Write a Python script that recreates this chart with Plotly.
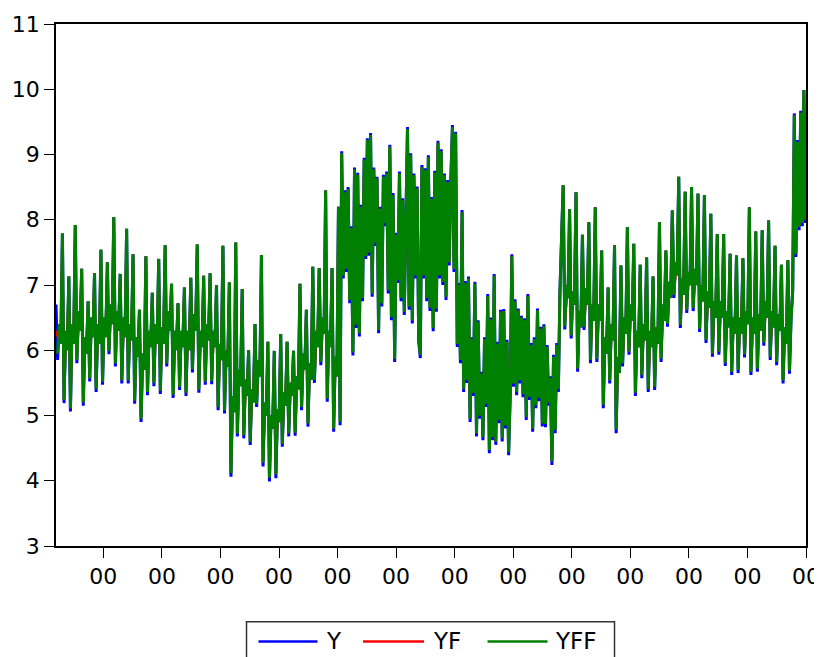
import plotly.graph_objects as go

# ---------------- data ----------------
tick_labels = ["00"] * 13
legend_names = ["Y", "YF", "YFF"]
legend_colors = ["#0000FF", "#FF0000", "#008000"]

# first observations
y_head = [6.7, 5.85, 6.4, 6.1]
yf_head = [6.3, 6.2, 6.35, 6.15]
yff_head = [None, 5.95, 6.4, 6.1]

# section 1 (regular cycles): peak, trough, rise-1, rise-2
s1_peak = [7.79, 7.13, 7.92, 7.25, 6.75, 7.18, 7.54, 7.35, 8.04, 7.17, 7.86, 7.47, 6.62, 7.44, 6.88,
           7.40, 7.61, 7.02, 6.72, 6.96, 7.11, 7.62, 7.14, 7.18, 7.00, 7.60, 7.04, 7.65, 6.94, 6.00,
           6.40, 7.46, 6.13, 5.99, 6.25, 6.13, 5.99, 7.02, 6.62, 7.28, 7.26, 8.45, 7.26, 8.20]
s1_trough = [5.19, 5.06, 5.80, 5.15, 5.52, 5.36, 5.47, 5.94, 5.75, 5.49, 5.49, 5.18, 4.90, 5.31, 5.45,
             5.33, 5.75, 5.27, 5.39, 5.30, 5.66, 5.35, 5.47, 5.48, 5.08, 5.03, 4.06, 4.68, 4.65, 4.55,
             5.13, 4.22, 3.99, 4.04, 4.52, 4.68, 4.69, 5.08, 4.83, 5.50, 5.77, 5.21, 4.75]
s1_mid1 = [6.3, 6.4, 6.6, 6.2, 6.5, 6.4, 6.5, 6.7, 6.6, 6.5, 6.4, 6.2, 5.95, 6.3, 6.4, 6.35, 6.6, 6.3,
           6.3, 6.3, 6.55, 6.3, 6.4, 6.3, 6.1, 6.0, 5.3, 5.7, 5.55, 5.4, 5.85, 5.2, 5.0, 5.1, 5.35, 5.5,
           5.6, 5.95, 5.8, 6.3, 6.5, 6.3, 5.9]
s1_mid2 = [6.0, 6.1, 6.3, 5.95, 6.2, 6.1, 6.2, 6.4, 6.3, 6.2, 6.15, 5.9, 5.7, 6.05, 6.1, 6.1, 6.3, 6.0,
           6.05, 6.0, 6.3, 6.05, 6.15, 6.05, 5.85, 5.75, 5.05, 5.45, 5.3, 5.2, 5.6, 5.0, 4.8, 4.9, 5.15,
           5.3, 5.4, 5.7, 5.55, 6.05, 6.25, 6.05, 5.6]
yff_s1_trough = [5.24, 5.11, 5.85, 5.2, 5.57, 5.41, 5.52, 5.99, 5.8, 5.54, 5.54, 5.23, 4.95, 5.36, 5.5,
                 5.38, 5.8, 5.32, 5.44, 5.35, 5.71, 5.4, 5.52, 5.53, 5.13, 5.08, 4.12, 4.73, 4.7, 4.6,
                 5.18, 4.28, 4.05, 4.1, 4.57, 4.73, 4.74, 5.13, 4.88, 5.55, 5.82, 5.26, 4.8]
yf_s1_mid1 = [6.05, 6.2, 6.35, 5.95, 6.3, 6.15, 6.3, 6.45, 6.4, 6.25, 6.2, 5.95, 5.75, 6.1, 6.2, 6.1,
              6.35, 6.05, 6.1, 6.05, 6.3, 6.1, 6.2, 6.05, 5.85, 5.75, 5.05, 5.45, 5.3, 5.2, 5.6, 4.95,
              4.8, 4.85, 5.15, 5.3, 5.35, 5.7, 5.6, 6.05, 6.3, 6.05, 5.7]
yf_s1_mid2 = [6.25, 6.35, 6.5, 6.15, 6.4, 6.3, 6.45, 6.6, 6.5, 6.4, 6.35, 6.1, 5.9, 6.25, 6.3, 6.3,
              6.5, 6.2, 6.25, 6.2, 6.5, 6.25, 6.35, 6.25, 6.05, 5.95, 5.3, 5.65, 5.5, 5.4, 5.8, 5.2,
              5.0, 5.1, 5.35, 5.5, 5.6, 5.9, 5.75, 6.25, 6.45, 6.25, 5.8]

# volatile high regime
y_high = [4.85, 9.05, 7.1, 8.45, 7.2, 8.5, 6.72, 7.9, 5.92, 8.8,
          6.34, 8.72, 6.21, 8.23, 6.75, 8.95, 7.4, 9.25, 7.45, 9.33,
          6.82, 8.8, 7.6, 8.66, 6.26, 8.2, 6.67, 8.69, 7.9, 8.74,
          6.87, 9.15, 6.46, 8.41, 5.82, 7.8, 7.03, 8.74, 6.75, 8.33,
          6.54, 8.0, 9.42, 6.62, 9.02, 6.41, 8.71, 7.1, 8.51, 6.13,
          5.88, 8.84, 7.1, 8.79, 6.75, 8.99, 6.6, 8.35, 6.29, 8.75,
          6.59, 9.21, 7.1, 9.08, 7.0, 8.71, 6.77, 8.61, 7.3, 8.6,
          9.45, 7.2, 9.35]
yff_high = [4.9, 9.02, 7.15, 8.42, 7.25, 8.47, 6.77, 7.87, 5.97, 8.77,
            6.39, 8.69, 6.26, 8.2, 6.8, 8.92, 7.45, 9.22, 7.5, 9.3,
            6.87, 8.77, 7.65, 8.63, 6.31, 8.17, 6.72, 8.66, 7.95, 8.71,
            6.92, 9.12, 6.51, 8.38, 5.87, 7.77, 7.08, 8.71, 6.8, 8.3,
            6.59, 7.97, 9.39, 6.67, 8.99, 6.46, 8.68, 7.15, 8.48, 6.18,
            5.93, 8.81, 7.15, 8.76, 6.8, 8.96, 6.65, 8.32, 6.34, 8.72,
            6.64, 9.18, 7.15, 9.05, 7.05, 8.68, 6.82, 8.58, 7.35, 8.57,
            9.42, 7.25, 9.32]

# volatile low regime
y_low = [6.05, 7.03, 5.8, 8.15, 5.36, 7.06, 5.5, 7.13, 4.9, 6.2,
         5.3, 7.05, 4.68, 6.46, 4.95, 5.67, 4.62, 6.2, 5.13, 6.86,
         4.42, 6.5, 4.62, 7.17, 4.55, 6.13, 4.88, 6.62, 4.6, 6.63,
         4.8, 6.16, 4.39, 5.3, 7.47, 5.44, 6.78, 5.31, 6.64, 5.49,
         6.53, 5.28, 6.49, 4.93, 6.86, 5.24, 6.11, 4.75, 6.2, 5.11,
         6.64, 5.22, 6.36, 4.83, 6.4, 4.82, 6.08, 5.15, 5.6, 4.24,
         5.93, 4.73, 6.11, 5.36, 6.9, 7.6]
yff_low = [6.1, 7.0, 5.85, 8.12, 5.41, 7.03, 5.55, 7.1, 4.95, 6.17,
           5.35, 7.02, 4.73, 6.43, 5.0, 5.64, 4.67, 6.17, 5.18, 6.83,
           4.47, 6.47, 4.67, 7.14, 4.6, 6.1, 4.93, 6.59, 4.65, 6.6,
           4.85, 6.13, 4.44, 5.35, 7.44, 5.49, 6.75, 5.36, 6.61, 5.54,
           6.5, 5.33, 6.46, 4.98, 6.83, 5.29, 6.08, 4.8, 6.17, 5.16,
           6.61, 5.27, 6.33, 4.88, 6.37, 4.87, 6.05, 5.2, 5.57, 4.3,
           5.9, 4.78, 6.08, 5.41, 6.9, 7.6]

# section 2 (regular cycles)
s2_peak = [8.53, 8.16, 8.42, 7.77, 7.96, 8.19, 7.53, 6.96, 7.61, 7.30, 7.89, 7.63, 7.31, 7.42, 7.13,
           7.96, 7.53, 8.14, 8.66, 8.43, 8.50, 8.40, 8.38, 8.09, 7.78, 7.78, 7.48, 7.45, 7.41, 8.19,
           7.82, 7.84, 7.99, 7.60, 7.31, 7.38]
s2_trough = [6.32, 6.18, 5.67, 6.31, 5.80, 5.82, 5.11, 5.49, 4.73, 5.75, 5.93, 5.30, 5.57, 5.36, 5.39,
             5.82, 6.36, 6.80, 6.34, 6.57, 6.60, 6.28, 6.11, 5.90, 5.93, 5.76, 5.62, 5.65, 5.89, 5.62,
             5.67, 6.07, 5.85, 5.77, 5.49]
s2_mid1 = [7.0, 6.9, 6.6, 6.95, 6.7, 6.7, 6.2, 6.4, 5.9, 6.5, 6.7, 6.3, 6.4, 6.3, 6.35, 6.7, 7.05, 7.35,
           7.1, 7.2, 7.25, 7.0, 6.9, 6.75, 6.75, 6.6, 6.5, 6.5, 6.6, 6.5, 6.55, 6.75, 6.6, 6.55, 6.35]
s2_mid2 = [6.8, 6.7, 6.35, 6.7, 6.45, 6.45, 5.95, 6.15, 5.65, 6.25, 6.45, 6.05, 6.15, 6.05, 6.1, 6.45,
           6.8, 7.15, 6.85, 7.0, 7.0, 6.75, 6.65, 6.5, 6.5, 6.35, 6.25, 6.25, 6.4, 6.25, 6.3, 6.5, 6.35,
           6.3, 6.1]
yff_s2_trough = [6.37, 6.23, 5.72, 6.36, 5.85, 5.87, 5.16, 5.54, 4.79, 5.8, 5.98, 5.35, 5.62, 5.41,
                 5.44, 5.87, 6.41, 6.85, 6.39, 6.62, 6.65, 6.33, 6.16, 5.95, 5.98, 5.81, 5.67, 5.7,
                 5.94, 5.67, 5.72, 6.12, 5.9, 5.82, 5.54]
yf_s2_mid1 = [6.75, 6.7, 6.35, 6.75, 6.45, 6.5, 5.95, 6.2, 5.65, 6.3, 6.5, 6.05, 6.2, 6.05, 6.15, 6.45,
              6.85, 7.15, 6.85, 7.0, 7.0, 6.8, 6.65, 6.5, 6.55, 6.35, 6.3, 6.25, 6.4, 6.25, 6.3, 6.55,
              6.35, 6.3, 6.1]
yf_s2_mid2 = [7.0, 6.9, 6.55, 6.9, 6.65, 6.65, 6.15, 6.35, 5.85, 6.45, 6.65, 6.25, 6.35, 6.25, 6.3,
              6.65, 7.0, 7.35, 7.05, 7.2, 7.2, 6.95, 6.85, 6.7, 6.7, 6.55, 6.45, 6.45, 6.6, 6.45, 6.5,
              6.7, 6.55, 6.5, 6.3]

# last observations
y_tail = [5.64, 6.5, 6.9, 9.63, 7.43, 9.22, 7.84, 9.67, 7.9, 9.99, 7.95]
yff_tail = [5.69, 6.5, 6.9, 9.6, 7.48, 9.19, 7.89, 9.64, 7.95, 9.99, 8.0]


# ---------------- assemble series ----------------
def cycles(peaks, troughs, mid1, mid2):
    out = []
    for k in range(len(troughs)):
        out += [peaks[k], troughs[k], mid1[k], mid2[k]]
    out.append(peaks[-1])
    return out


Y = (y_head + cycles(s1_peak, s1_trough, s1_mid1, s1_mid2) + y_high + y_low
     + cycles(s2_peak, s2_trough, s2_mid1, s2_mid2) + y_tail)
YFF = (yff_head + cycles(s1_peak, yff_s1_trough, s1_mid1, s1_mid2) + yff_high + yff_low
       + cycles(s2_peak, yff_s2_trough, s2_mid1, s2_mid2) + yff_tail)
YF = (yf_head + cycles(s1_peak, yff_s1_trough, yf_s1_mid1, yf_s1_mid2) + yff_high + yff_low
      + cycles(s2_peak, yff_s2_trough, yf_s2_mid1, yf_s2_mid2) + yff_tail)
series = [Y, YF, YFF]

x = list(range(len(Y)))
x_max = 467.3
first_tick = 29.5
tick_step = (x_max - first_tick) / (len(tick_labels) - 1)
tick_pos = [first_tick + tick_step * k for k in range(len(tick_labels))]

FONT = "'DejaVu Sans', Arial, sans-serif"

fig = go.Figure()
for name, color, vals in zip(legend_names, legend_colors, series):
    fig.add_trace(go.Scatter(x=x, y=vals, mode="lines", name=name, showlegend=False,
                             line=dict(color=color, width=2.2 if name == "YF" else 3)))

axis_common = dict(showgrid=False, zeroline=False, showline=True, linecolor="black",
                   linewidth=1.6, mirror=True, ticks="outside", tickcolor="black",
                   tickwidth=1.2, ticklen=10,
                   tickfont=dict(family=FONT, size=22, color="black"),
                   automargin=False)

# page body has an 8px margin: figure is sized so no scrollbars appear,
# plot area ends up at x 56..806, y 24..546 of the window
fig.update_layout(
    width=814, height=649,
    margin=dict(l=48, r=16, t=16, b=111, pad=0, autoexpand=False),
    paper_bgcolor="white", plot_bgcolor="white",
    font=dict(family=FONT, size=22, color="black"),
    xaxis=dict(range=[0, x_max], tickmode="array", tickvals=tick_pos, ticktext=tick_labels,
               **axis_common),
    yaxis=dict(range=[3, 11], tickmode="linear", tick0=3, dtick=1, **axis_common),
    showlegend=False,
)

# hand-drawn legend box below the plot (paper coordinates, window pixels converted)
PW, PH, PL, PB = 750.0, 522.0, 56.0, 546.0
def px(xp):
    return (xp - PL) / PW
def py(yp):
    return (PB - yp) / PH

fig.add_shape(type="rect", xref="paper", yref="paper",
              x0=px(246.5), x1=px(614.5), y0=py(663), y1=py(621.7),
              line=dict(color="#333333", width=1.5), fillcolor="white", layer="above")
sample_x = [(258.5, 317.5), (363.0, 424.0), (487.5, 547.5)]
text_x = [324.0, 431.0, 553.0]
for (a, b), tx, name, color in zip(sample_x, text_x, legend_names, legend_colors):
    fig.add_shape(type="line", xref="paper", yref="paper",
                  x0=px(a), x1=px(b), y0=py(641.5), y1=py(641.5),
                  line=dict(color=color, width=2.5))
    fig.add_annotation(xref="paper", yref="paper", x=px(tx), y=py(640.5),
                       xanchor="left", yanchor="middle", showarrow=False, text=name,
                       font=dict(family=FONT, size=23, color="black"))

fig.write_html("out.html", config={"displayModeBar": False})
